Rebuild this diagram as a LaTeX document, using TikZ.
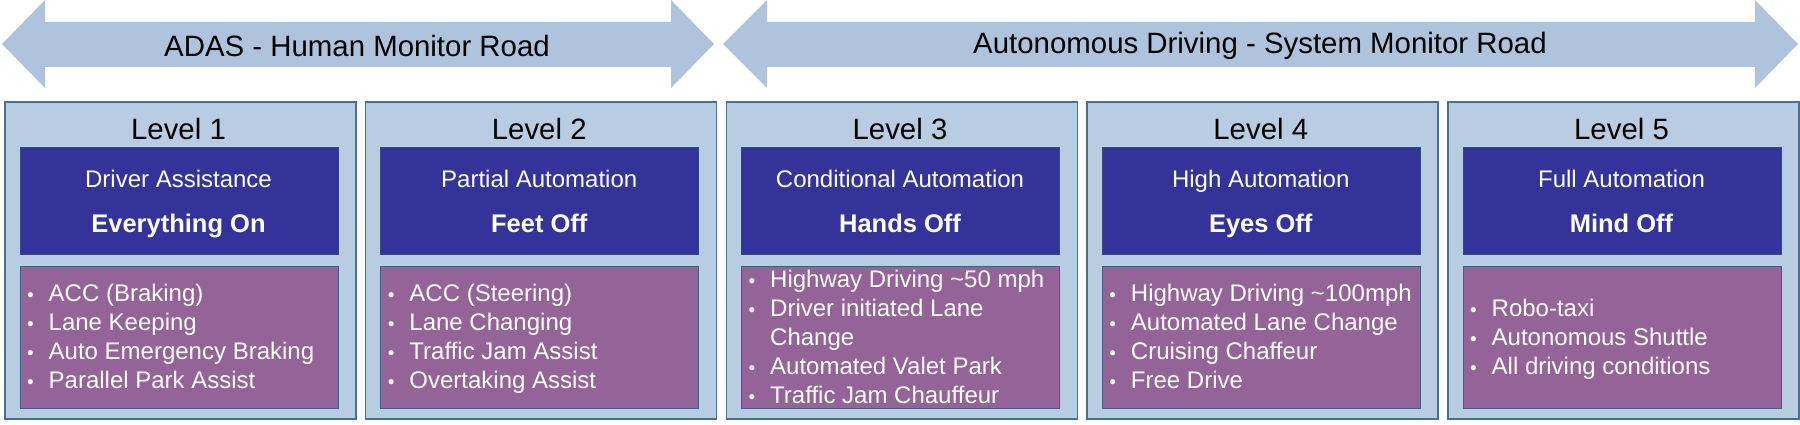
\documentclass[tikz,border=0pt]{standalone}
\usepackage{fontspec}
\setmainfont{Liberation Sans}
\definecolor{arrowfill}{HTML}{AEC4DC}
\definecolor{outerfill}{HTML}{B9CDE2}
\definecolor{outerline}{HTML}{4A6E96}
\definecolor{bluefill}{HTML}{333399}
\definecolor{blueline}{HTML}{2E4F7E}
\definecolor{purplefill}{HTML}{946397}
\definecolor{purpleline}{HTML}{3F5F8A}
\tikzset{
  roadarrow/.style={fill=arrowfill, draw=none},
  roadtext/.style={font=\fontsize{29.4}{31}\selectfont, text=black, inner sep=0pt},
  outerbox/.style={fill=outerfill, draw=outerline, line width=1.6pt},
  bluebox/.style={fill=bluefill, draw=blueline, line width=1pt},
  purplebox/.style={fill=purplefill, draw=purpleline, line width=1pt},
  leveltext/.style={font=\fontsize{29.4}{31}\selectfont, text=black, anchor=base, inner sep=0pt},
  titletext/.style={font=\fontsize{24}{26}\selectfont, text=white, anchor=base, inner sep=0pt},
  boldtext/.style={font=\fontsize{25.5}{27}\selectfont\bfseries, text=white, anchor=base, inner sep=0pt},
  itemtext/.style={font=\fontsize{24}{26}\selectfont, text=white, anchor=base west, inner sep=0pt},
  bullettext/.style={font=\fontsize{19}{20}\selectfont, text=white, anchor=base, inner sep=0pt},
}
\newcommand\levelbox[6]{%
  \pgfmathsetmacro\xo{4+360.75*#1}%
  \pgfmathsetmacro\xa{\xo+15.5}%
  \pgfmathsetmacro\xc{\xo+174.5}%
  \node[outerbox, minimum width=351pt, minimum height=317pt, anchor=north west, inner sep=0pt] (outer#1) at (\xo,101) {};
  \node[bluebox, minimum width=318pt, minimum height=107pt, anchor=north west, inner sep=0pt] (blue#1) at (\xa,147) {};
  \node[purplebox, minimum width=318pt, minimum height=142pt, anchor=north west, inner sep=0pt] (purple#1) at (\xa,266) {};
  \node[leveltext] (level#1) at (\xc,140) {#2};
  \node[titletext] (title#1) at (\xc,187) {#3};
  \node[boldtext] (bold#1) at (\xc,232) {#4};
  \foreach \b/\t [count=\k] in {#6} {
    \pgfmathsetmacro\yb{337+(\k-1-(#5-1)/2)*29+8}
    \ifnum\b=1
      \node[bullettext] (bul#1-\k) at (\xa+11,\yb) {•};
    \fi
    \node[itemtext] (item#1-\k) at (\xa+29,\yb) {\t};
  }
}
\begin{document}
\begin{tikzpicture}[x=1pt,y=-1pt]
\useasboundingbox (0,0) rectangle (1800,425);
\fill[white] (0,0) rectangle (1800,425);
% arrows
\path[roadarrow] (2,44) -- (45,0) -- (45,22) -- (671,22) -- (671,0) -- (714,44) -- (671,88) -- (671,67) -- (45,67) -- (45,88) -- cycle;
\path[roadarrow] (723,44) -- (767,0) -- (767,22) -- (1755,22) -- (1755,0) -- (1798,44) -- (1755,88) -- (1755,67) -- (767,67) -- (767,88) -- cycle;
\node[roadtext] (adas) at (357,46) {ADAS - Human Monitor Road};
\node[roadtext] (auto) at (1260,46) {Autonomous Driving - System Monitor Road};
\levelbox{0}{Level 1}{Driver Assistance}{Everything On}{4}{1/ACC (Braking),1/Lane Keeping,1/Auto Emergency Braking,1/Parallel Park Assist}
\levelbox{1}{Level 2}{Partial Automation}{Feet Off}{4}{1/ACC (Steering),1/Lane Changing,1/Traffic Jam Assist,1/Overtaking Assist}
\levelbox{2}{Level 3}{Conditional Automation}{Hands Off}{5}{1/Highway Driving \textasciitilde50 mph,1/Driver initiated Lane,0/Change,1/Automated Valet Park,1/Traffic Jam Chauffeur}
\levelbox{3}{Level 4}{High Automation}{Eyes Off}{4}{1/Highway Driving \textasciitilde100mph,1/Automated Lane Change,1/Cruising Chaffeur,1/Free Drive}
\levelbox{4}{Level 5}{Full Automation}{Mind Off}{3}{1/Robo-taxi,1/Autonomous Shuttle,1/All driving conditions}
\end{tikzpicture}
\end{document}
